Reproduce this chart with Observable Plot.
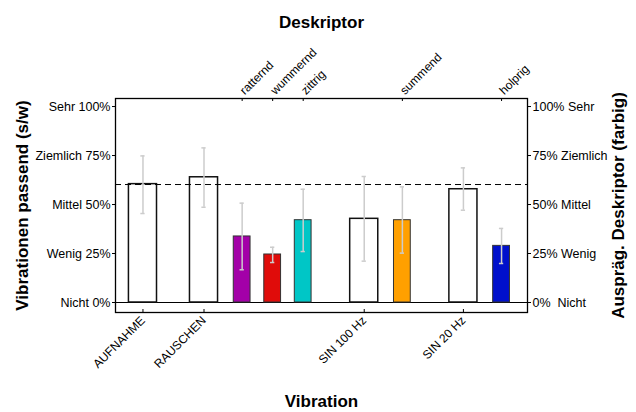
<!DOCTYPE html>
<html>
<head>
<meta charset="utf-8">
<script src="https://cdn.jsdelivr.net/npm/d3@7"></script>
<script src="https://cdn.jsdelivr.net/npm/@observablehq/plot@0.6"></script>
<style>
  html, body { margin: 0; padding: 0; background: white; }
  #chart { width: 636px; height: 412px; }
</style>
</head>
<body>
<div id="chart"></div>
<script>
// Vibrations (black & white bars, left axis)
const vibrations = ["AUFNAHME", "RAUSCHEN", "SIN 100 Hz", "SIN 20 Hz"];
const vibPos = [1, 3, 8.25, 11.5];
const vibMean = [60.4, 63.9, 42.7, 57.8];
const vibLow = [45.4, 48.6, 21.1, 47.1];
const vibHigh = [74.8, 78.9, 64.3, 68.7];

// Descriptors (coloured bars, right axis)
const descriptors = ["ratternd", "wummernd", "zittrig", "summend", "holprig"];
const descPos = [4.25, 5.25, 6.25, 9.5, 12.75];
const descMean = [33.7, 24.5, 42.0, 42.0, 28.9];
const descLow = [16.7, 20.4, 26.0, 25.2, 19.9];
const descHigh = [50.7, 28.2, 57.8, 59.0, 37.8];
const descColors = ["#a300a8", "#e00c0a", "#00c6c6", "#ffa000", "#0010cc"];

// Reference line
const refLine = [60.2];

// Level tick labels
const levelTicks = [0, 25, 50, 75, 100];
const levelNames = ["Nicht", "Wenig", "Mittel", "Ziemlich", "Sehr"];

const vib = vibrations.map((name, i) => ({name, x: vibPos[i], mean: vibMean[i], low: vibLow[i], high: vibHigh[i]}));
const desc = descriptors.map((name, i) => ({name, x: descPos[i], mean: descMean[i], low: descLow[i], high: descHigh[i], color: descColors[i]}));
const errs = vib.concat(desc);

const wideHalf = 0.46, narrowHalf = 0.275, capHalf = 0.07;
const font = "'Liberation Sans', Arial, Helvetica, sans-serif";

const chart = Plot.plot({
  width: 636,
  height: 412,
  marginLeft: 115,
  marginRight: 109,
  marginTop: 98,
  marginBottom: 100,
  style: {fontFamily: font, fontSize: "12px", background: "white", color: "black"},
  x: {domain: [0.1, 13.6], axis: null},
  y: {domain: [-5.1, 104.1], axis: null},
  marks: [
    Plot.ruleY([0], {stroke: "black", strokeWidth: 1}),
    Plot.rectY(vib, {x1: d => d.x - wideHalf, x2: d => d.x + wideHalf, y1: 0, y2: "mean", fill: "white", stroke: "#111", strokeWidth: 1.5}),
    Plot.rectY(desc, {x1: d => d.x - narrowHalf, x2: d => d.x + narrowHalf, y1: 0, y2: "mean", fill: "color", stroke: "#333", strokeWidth: 1}),
    Plot.ruleY(refLine, {stroke: "black", strokeWidth: 1, strokeDasharray: "6,4"}),
    Plot.ruleX(errs, {x: "x", y1: "low", y2: "high", stroke: "#cccccc", strokeWidth: 1.5}),
    Plot.ruleY(errs, {y: "low", x1: d => d.x - capHalf, x2: d => d.x + capHalf, stroke: "#cccccc", strokeWidth: 1.5}),
    Plot.ruleY(errs, {y: "high", x1: d => d.x - capHalf, x2: d => d.x + capHalf, stroke: "#cccccc", strokeWidth: 1.5}),
    Plot.frame({stroke: "black", strokeWidth: 1.3}),
    // left axis
    Plot.axisY(levelTicks, {anchor: "left", tickSize: 3, tickPadding: 2, label: null, fontSize: 12.5,
      tickFormat: d => levelNames[levelTicks.indexOf(d)] + " " + d + "%"}),
    // right axis
    Plot.axisY(levelTicks, {anchor: "right", tickSize: 3, tickPadding: 2, label: null, fontSize: 12.5,
      tickFormat: d => d + "%" + (d === 0 ? "\u00a0 " : " ") + levelNames[levelTicks.indexOf(d)]}),
    // top axis (descriptors), inward ticks
    Plot.ruleX(descPos, {x: d => d, insetBottom: 211, stroke: "black", strokeWidth: 1}),
    Plot.axisX(descPos, {anchor: "top", tickSize: 0, tickPadding: 6, tickRotate: -45, label: null, fontSize: 12,
      tickFormat: d => descriptors[descPos.indexOf(d)]}),
    // bottom axis (vibrations), inward ticks
    Plot.ruleX(vibPos, {x: d => d, insetTop: 211, stroke: "black", strokeWidth: 1}),
    Plot.axisX(vibPos, {anchor: "bottom", tickSize: 0, tickPadding: 6, tickRotate: -45, label: null, fontSize: 12,
      tickFormat: d => vibrations[vibPos.indexOf(d)]}),
    // titles
    Plot.text(["Deskriptor"], {frameAnchor: "top", dy: -83, fontSize: 17, fontWeight: "bold"}),
    Plot.text(["Vibration"], {frameAnchor: "bottom", dy: 94, fontSize: 17, fontWeight: "bold"}),
    Plot.text(["Vibrationen passend (s/w)"], {frameAnchor: "left", textAnchor: "middle", dx: -93, rotate: -90, fontSize: 17, fontWeight: "bold"}),
    Plot.text(["Auspräg. Deskriptor (farbig)"], {frameAnchor: "right", textAnchor: "middle", dx: 91, rotate: -90, fontSize: 17, fontWeight: "bold"})
  ]
});
document.getElementById("chart").appendChild(chart);
</script>
</body>
</html>
